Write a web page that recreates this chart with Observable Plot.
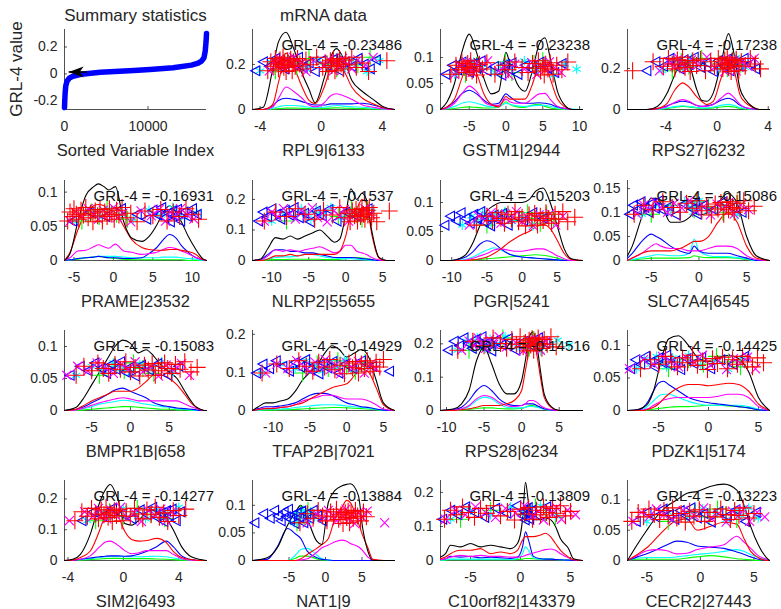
<!DOCTYPE html>
<html>
<head>
<meta charset="utf-8">
<script src="https://cdn.jsdelivr.net/npm/d3@7"></script>
<script src="https://cdn.jsdelivr.net/npm/@observablehq/plot@0.6"></script>
<style>
  body { margin: 0; background: #fff; }
  #fig { position: relative; width: 781px; height: 609px; overflow: hidden; background: #fff;
         font-family: "Liberation Sans", Arial, Helvetica, sans-serif; }
  #fig svg { position: absolute; overflow: visible; }
  #ylabel { position: absolute; left: 17px; top: 69px; font-size: 17px; color: #262626; white-space: nowrap;
            transform: translate(-50%, -50%) rotate(-90deg); }
</style>
</head>
<body>
<div id="fig"><div id="ylabel">GRL-4 value</div></div>
<script>
// ---- Summary panel: sorted GRL-4 values over all variables ----
const sortedIndex = [0, 30, 80, 150, 300, 600, 1000, 2000, 4300, 8300, 10240, 13000, 15200, 16000, 16400, 16700, 16850, 16950, 17000];
const sortedGRL   = [-0.25, -0.2, -0.14, -0.09, -0.055, -0.03, -0.018, -0.003, 0.012, 0.025, 0.033, 0.045, 0.065, 0.08, 0.095, 0.12, 0.17, 0.24, 0.3];
const arrowTail = [2700, 0.014];
const arrowHead = [500, 0.014];

// ---- Per-gene panels ----
const geneLabels = ["RPL9|6133", "GSTM1|2944", "RPS27|6232", "PRAME|23532", "NLRP2|55655", "PGR|5241",
  "SLC7A4|6545", "BMPR1B|658", "TFAP2B|7021", "RPS28|6234", "PDZK1|5174", "SIM2|6493", "NAT1|9",
  "C10orf82|143379", "CECR2|27443"];
const grlValues = [-0.23486, -0.23238, -0.17238, -0.16931, -0.1537, -0.15203, -0.15086, -0.15083,
  -0.14929, -0.14516, -0.14425, -0.14277, -0.13884, -0.13809, -0.13223];

const xLimits = [[-4.5, 4.8], [-8.9, 10.4], [-7, 4.1], [-6.2, 11.8], [-12.6, 6.6], [-11.6, 8.6], [-7.5, 7.4],
  [-8.5, 9.8], [-12.8, 6.5], [-10.8, 8.1], [-8.1, 6.1], [-4.25, 6.0], [-10, 9.45], [-8, 6.2], [-6.8, 6.45]];
const yLimits = [[0, 0.355], [0, 0.154], [0, 0.39], [0, 0.117], [0, 0.262], [0, 0.138], [0, 0.167],
  [0, 0.125], [0, 0.21], [0, 0.24], [0, 0.123], [0, 0.26], [0, 0.145], [0, 0.235], [0, 0.132]];
const xTickVals = [[-4, 0, 4], [-5, 0, 5, 10], [-4, 0, 4], [-5, 0, 5, 10], [-10, -5, 0, 5], [-10, -5, 0, 5],
  [-5, 0, 5], [-5, 0, 5], [-10, -5, 0, 5], [-10, -5, 0, 5], [-5, 0, 5], [-4, 0, 4], [-5, 0, 5], [-5, 0, 5], [-5, 0, 5]];
const yTickVals = [[0, 0.2], [0, 0.05, 0.1], [0, 0.2], [0, 0.05, 0.1], [0, 0.1, 0.2], [0, 0.05, 0.1],
  [0, 0.05, 0.1, 0.15], [0, 0.05, 0.1], [0, 0.1, 0.2], [0, 0.1, 0.2], [0, 0.05, 0.1], [0, 0.1, 0.2],
  [0, 0.05, 0.1], [0, 0.1, 0.2], [0, 0.05, 0.1]];
const bandLevels = [0.2, 0.08, 0.22, 0.067, 0.15, 0.072, 0.11, 0.065, 0.115, 0.2, 0.074, 0.15, 0.08, 0.14, 0.075];

// Density estimates: evaluation points and values (all samples, then one per class)
const gridX = [
  [-4.5,-3.8,-3.2,-2.8,-2.3,-1.8,-1.25,-0.8,-0.4,0.2,0.6,1.0,1.5,2.0,2.7,3.4,4.0,4.8],
  [-8.9,-8,-7,-6,-5,-4,-3,-2,-1,0,0.5,1.5,2.6,3.5,4.5,5.3,6,7,8,9,10.4],
  [-7,-5.5,-5,-4.4,-3.9,-3.3,-2.7,-2.2,-1.6,-1.2,-0.8,-0.3,0.3,0.9,1.3,1.8,2.2,2.8,3.3,4.1],
  [-6.2,-5.5,-4.5,-3.5,-2.5,-1.9,-1.2,-0.6,0.25,1.3,2.3,3.6,4.5,5.5,6.3,7.1,8,8.6,9.5,10.3,11.4,11.8],
  [-12.6,-11.5,-10.5,-9.5,-8.5,-7.5,-6.5,-5.5,-4.5,-3.5,-2.5,-1.5,-0.8,0,0.7,1.5,2.2,2.8,3.5,4.5,5.5,6.6],
  [-11.6,-10,-9,-8,-7,-6,-5,-4,-3,-2,-1,0,1,2,3,4,5,6,7,8.6],
  [-7.5,-7,-6,-5,-4.5,-4,-3,-2,-1,-0.5,0,1,2,3,4,5,6,7.4],
  [-8.5,-7,-6,-5,-4,-3,-2,-1,0,1,2,3,4,5,6,7,7.8,8.5,9,9.5,9.8],
  [-12.8,-12,-11,-10,-9,-8,-7,-6,-5,-4,-3,-2,-1,0,1,2,3,4,5,6.5],
  [-10.8,-9,-8,-7,-6,-5,-4,-3,-2,-1,0,0.5,1,1.5,2,2.5,3,4,5,8.1],
  [-8.1,-7,-6.5,-6,-5.5,-5,-4.5,-4,-3,-2,-1,0,1,2,3,4,5,6.1],
  [-4.25,-3.6,-3.1,-2.4,-1.7,-1.3,-0.95,-0.4,0.1,0.6,1.1,1.7,2.4,3.1,3.6,4.2,4.9,5.6,6.0],
  [-10,-8,-6.6,-5.2,-4.1,-3.4,-2.5,-1.2,-0.5,0.4,1.3,2.2,2.9,3.4,4.5,5.1,5.8,6.5,8,9.45],
  [-8,-7.5,-7,-6,-5,-4,-3,-2,-1,-0.3,0.2,0.5,0.8,1.3,2,2.5,3,3.5,4,4.8,5.3,6.2],
  [-6.8,-5.9,-5,-4.05,-3.1,-2.2,-1.25,-0.3,0.9,2.2,3.4,4.1,4.7,5.4,6.2,6.45]
];
const densAll = [
  [0,0.01,0.17,0.30,0.343,0.27,0.16,0.09,0.03,0.14,0.23,0.27,0.22,0.13,0.08,0.045,0.015,0],
  [0,0.015,0.05,0.11,0.145,0.11,0.06,0.03,0.035,0.11,0.09,0.05,0.035,0.07,0.125,0.138,0.1,0.035,0.008,0,0],
  [0,0,0.005,0.03,0.08,0.17,0.24,0.22,0.1,0.045,0.04,0.08,0.22,0.37,0.28,0.1,0.05,0.012,0,0],
  [0,0.01,0.057,0.095,0.108,0.112,0.108,0.103,0.108,0.057,0.033,0.028,0.035,0.052,0.07,0.08,0.07,0.057,0.035,0.019,0.002,0],
  [0,0.005,0.04,0.075,0.07,0.08,0.07,0.08,0.09,0.1,0.08,0.06,0.07,0.15,0.235,0.2,0.22,0.2,0.1,0.01,0,0],
  [0,0,0.003,0.01,0.03,0.06,0.085,0.095,0.1,0.1,0.1,0.1,0.105,0.12,0.125,0.1,0.06,0.02,0.003,0],
  [0.01,0.03,0.09,0.13,0.13,0.12,0.08,0.08,0.09,0.1,0.095,0.1,0.12,0.14,0.12,0.05,0.01,0],
  [0,0.005,0.02,0.04,0.06,0.08,0.1,0.11,0.105,0.09,0.095,0.085,0.07,0.06,0.05,0.03,0.015,0.005,0.002,0,0],
  [0,0.01,0.02,0.02,0.025,0.03,0.05,0.08,0.1,0.12,0.15,0.17,0.16,0.14,0.15,0.16,0.14,0.08,0.02,0],
  [0,0.005,0.02,0.06,0.15,0.19,0.14,0.08,0.05,0.05,0.09,0.15,0.22,0.235,0.2,0.12,0.05,0.01,0,0],
  [0,0.002,0.005,0.012,0.03,0.06,0.09,0.11,0.115,0.1,0.08,0.075,0.08,0.085,0.08,0.06,0.02,0],
  [0,0.005,0.02,0.084,0.19,0.23,0.247,0.2,0.12,0.115,0.13,0.158,0.165,0.137,0.1,0.045,0.012,0.003,0],
  [0,0.005,0.023,0.064,0.088,0.1,0.076,0.035,0.029,0.106,0.127,0.135,0.138,0.139,0.118,0.058,0.017,0,0,0],
  [0.01,0.02,0.045,0.04,0.05,0.04,0.045,0.04,0.035,0.05,0.12,0.23,0.17,0.12,0.12,0.125,0.12,0.1,0.064,0.035,0.005,0],
  [0,0.026,0.05,0.073,0.09,0.1,0.111,0.114,0.122,0.126,0.116,0.09,0.056,0.026,0.004,0]
];
const densRed = [
  [0,0,0.02,0.12,0.25,0.19,0.1,0.04,0.025,0.1,0.18,0.21,0.17,0.1,0.05,0.025,0.01,0],
  [0,0.005,0.02,0.06,0.095,0.07,0.03,0.01,0.005,0.025,0.02,0.02,0.02,0.045,0.085,0.09,0.06,0.02,0.005,0,0],
  [0,0,0.002,0.01,0.03,0.095,0.13,0.11,0.063,0.04,0.024,0.04,0.15,0.25,0.2,0.07,0.035,0.01,0,0],
  [0,0.012,0.045,0.07,0.08,0.082,0.08,0.075,0.07,0.05,0.031,0.019,0.016,0.015,0.015,0.016,0.016,0.015,0.013,0.01,0.001,0],
  [0,0,0.005,0.015,0.015,0.02,0.015,0.02,0.02,0.02,0.02,0.02,0.03,0.08,0.15,0.17,0.2,0.19,0.09,0.008,0,0],
  [0,0,0,0,0.001,0.003,0.006,0.012,0.02,0.03,0.038,0.045,0.05,0.058,0.062,0.055,0.035,0.012,0.002,0],
  [0,0.005,0.015,0.02,0.02,0.02,0.02,0.025,0.035,0.04,0.04,0.05,0.08,0.1,0.08,0.03,0.005,0],
  [0,0.002,0.008,0.015,0.02,0.025,0.03,0.03,0.03,0.035,0.045,0.055,0.055,0.05,0.04,0.025,0.012,0.005,0.002,0,0],
  [0,0.002,0.005,0.005,0.008,0.01,0.015,0.02,0.03,0.04,0.05,0.06,0.065,0.07,0.09,0.11,0.1,0.06,0.015,0],
  [0,0,0.002,0.005,0.01,0.015,0.015,0.015,0.02,0.03,0.06,0.12,0.18,0.2,0.17,0.1,0.04,0.008,0,0],
  [0,0,0,0.002,0.005,0.01,0.018,0.025,0.035,0.04,0.04,0.038,0.04,0.042,0.04,0.03,0.01,0],
  [0,0.002,0.01,0.03,0.1,0.15,0.17,0.147,0.095,0.068,0.063,0.065,0.072,0.058,0.03,0.01,0.003,0,0],
  [0,0,0,0,0,0.003,0.011,0.022,0.029,0.04,0.076,0.095,0.109,0.105,0.068,0.045,0.023,0.002,0,0],
  [0.005,0.01,0.02,0.03,0.03,0.035,0.02,0.025,0.02,0.03,0.06,0.07,0.07,0.07,0.075,0.08,0.07,0.05,0.03,0.01,0.002,0],
  [0,0.01,0.021,0.038,0.055,0.066,0.068,0.05,0.056,0.063,0.06,0.035,0.015,0.005,0,0]
];
const densMagenta = [
  [0,0,0.01,0.05,0.1,0.08,0.05,0.02,0.012,0.03,0.06,0.07,0.06,0.045,0.02,0.01,0.003,0],
  [0,0.003,0.012,0.03,0.045,0.035,0.015,0.008,0.008,0.02,0.015,0.012,0.012,0.02,0.03,0.031,0.02,0.006,0.002,0,0],
  [0,0,0.001,0.006,0.015,0.035,0.048,0.04,0.02,0.015,0.015,0.025,0.055,0.08,0.06,0.025,0.01,0.003,0,0],
  [0,0.004,0.014,0.015,0.02,0.023,0.02,0.018,0.024,0.014,0.012,0.009,0.01,0.012,0.016,0.019,0.017,0.014,0.01,0.005,0.001,0],
  [0,0.002,0.015,0.035,0.03,0.035,0.03,0.035,0.04,0.045,0.035,0.025,0.03,0.05,0.05,0.03,0.025,0.02,0.01,0.002,0,0],
  [0,0,0,0.001,0.004,0.008,0.012,0.018,0.02,0.018,0.016,0.016,0.018,0.02,0.02,0.015,0.008,0.003,0,0],
  [0,0.005,0.015,0.03,0.035,0.03,0.025,0.025,0.02,0.02,0.02,0.025,0.03,0.03,0.025,0.01,0.002,0],
  [0,0.001,0.004,0.008,0.012,0.015,0.018,0.02,0.018,0.015,0.015,0.015,0.015,0.015,0.015,0.01,0.006,0.003,0.001,0,0],
  [0,0.003,0.006,0.006,0.008,0.01,0.015,0.025,0.03,0.035,0.04,0.04,0.035,0.03,0.03,0.03,0.025,0.015,0.004,0],
  [0,0.001,0.005,0.015,0.035,0.045,0.04,0.025,0.015,0.012,0.015,0.02,0.03,0.03,0.025,0.015,0.008,0.002,0,0],
  [0,0,0.001,0.003,0.008,0.012,0.016,0.018,0.02,0.02,0.02,0.02,0.022,0.025,0.025,0.02,0.006,0],
  [0,0.001,0.004,0.015,0.045,0.06,0.063,0.05,0.032,0.022,0.025,0.032,0.032,0.032,0.02,0.006,0.001,0,0],
  [0,0,0,0,0,0.001,0.003,0.015,0.023,0.028,0.034,0.037,0.035,0.031,0.025,0.018,0.006,0.001,0,0],
  [0.002,0.005,0.01,0.015,0.012,0.015,0.012,0.012,0.01,0.01,0.012,0.015,0.018,0.022,0.028,0.032,0.034,0.03,0.02,0.008,0.002,0],
  [0,0.008,0.016,0.018,0.016,0.011,0.012,0.018,0.022,0.026,0.04,0.03,0.02,0.008,0.002,0]
];
const densBlue = [
  [0,0,0.015,0.04,0.05,0.045,0.035,0.025,0.02,0.02,0.025,0.025,0.025,0.025,0.028,0.02,0.008,0],
  [0,0.005,0.015,0.03,0.037,0.03,0.018,0.01,0.012,0.03,0.025,0.015,0.012,0.012,0.013,0.012,0.01,0.005,0.002,0,0],
  [0,0,0.002,0.008,0.018,0.032,0.04,0.035,0.02,0.015,0.018,0.025,0.045,0.055,0.045,0.02,0.01,0.003,0,0],
  [0,0.001,0.003,0.004,0.005,0.006,0.005,0.004,0.004,0.003,0.003,0.004,0.01,0.019,0.03,0.038,0.032,0.022,0.012,0.005,0.001,0],
  [0,0.003,0.02,0.035,0.035,0.03,0.03,0.025,0.025,0.02,0.015,0.01,0.01,0.01,0.01,0.008,0.006,0.005,0.003,0,0,0],
  [0,0,0.002,0.006,0.015,0.028,0.034,0.03,0.02,0.012,0.008,0.006,0.005,0.004,0.003,0.002,0.001,0,0,0],
  [0.005,0.015,0.04,0.055,0.05,0.045,0.03,0.02,0.015,0.03,0.02,0.015,0.015,0.015,0.01,0.005,0,0],
  [0,0.002,0.006,0.012,0.018,0.025,0.032,0.035,0.03,0.025,0.02,0.012,0.008,0.006,0.004,0.003,0.002,0.001,0,0,0],
  [0,0.005,0.01,0.01,0.012,0.015,0.02,0.03,0.04,0.045,0.045,0.04,0.03,0.02,0.015,0.01,0.008,0.004,0.001,0],
  [0,0.003,0.01,0.03,0.06,0.075,0.06,0.035,0.02,0.015,0.015,0.02,0.02,0.02,0.015,0.01,0.005,0.001,0,0],
  [0,0.001,0.005,0.015,0.03,0.042,0.045,0.04,0.03,0.02,0.015,0.012,0.01,0.008,0.006,0.004,0.001,0],
  [0,0.001,0.004,0.008,0.012,0.014,0.015,0.015,0.014,0.015,0.02,0.03,0.045,0.063,0.045,0.015,0.003,0,0],
  [0,0.002,0.025,0.058,0.048,0.04,0.017,0.005,0.002,0.001,0,0,0,0,0,0,0,0,0,0],
  [0.003,0.005,0.012,0.01,0.012,0.008,0.01,0.008,0.006,0.01,0.04,0.084,0.06,0.012,0.005,0.004,0.004,0.003,0.002,0.001,0,0],
  [0,0.006,0.011,0.018,0.026,0.032,0.03,0.024,0.022,0.02,0.014,0.01,0.006,0.002,0,0]
];
const densCyan = [
  [0,0,0.005,0.012,0.018,0.018,0.015,0.01,0.008,0.01,0.015,0.018,0.015,0.012,0.01,0.006,0.002,0],
  [0,0.002,0.006,0.012,0.015,0.012,0.008,0.005,0.005,0.012,0.01,0.007,0.006,0.007,0.008,0.008,0.006,0.003,0.001,0.001,0],
  [0,0,0,0.003,0.008,0.014,0.018,0.015,0.01,0.008,0.008,0.012,0.02,0.025,0.02,0.01,0.005,0.001,0,0],
  [0,0.001,0.003,0.004,0.005,0.006,0.006,0.006,0.006,0.005,0.004,0.004,0.004,0.004,0.005,0.005,0.005,0.004,0.003,0.002,0,0],
  [0,0.001,0.006,0.01,0.012,0.012,0.015,0.02,0.02,0.015,0.01,0.008,0.006,0.006,0.006,0.004,0.003,0.002,0.001,0,0,0],
  [0,0,0,0.002,0.006,0.012,0.018,0.022,0.018,0.012,0.008,0.006,0.005,0.004,0.003,0.002,0.001,0,0,0],
  [0,0.002,0.006,0.01,0.012,0.012,0.01,0.01,0.015,0.045,0.02,0.01,0.008,0.008,0.006,0.003,0,0],
  [0,0.001,0.003,0.006,0.01,0.012,0.014,0.016,0.015,0.012,0.01,0.008,0.006,0.005,0.003,0.002,0.001,0,0,0,0],
  [0,0.001,0.002,0.003,0.004,0.005,0.008,0.01,0.012,0.014,0.015,0.015,0.014,0.012,0.01,0.008,0.006,0.003,0.001,0],
  [0,0.001,0.004,0.012,0.03,0.04,0.035,0.02,0.01,0.008,0.008,0.01,0.012,0.012,0.01,0.007,0.004,0.001,0,0],
  [0,0,0.002,0.008,0.015,0.022,0.025,0.025,0.02,0.014,0.01,0.008,0.008,0.008,0.008,0.006,0.002,0],
  [0,0.001,0.003,0.006,0.01,0.012,0.013,0.013,0.012,0.012,0.012,0.013,0.014,0.012,0.008,0.004,0.001,0,0],
  [0,0,0,0,0.01,0.02,0.022,0.01,0.003,0.001,0,0,0,0,0,0,0,0,0,0],
  [0.001,0.002,0.004,0.004,0.004,0.004,0.004,0.004,0.003,0.006,0.02,0.04,0.03,0.008,0.004,0.004,0.004,0.003,0.002,0.001,0,0],
  [0,0.004,0.005,0.005,0.005,0.006,0.008,0.01,0.012,0.015,0.018,0.015,0.01,0.005,0.001,0]
];
const densGreen = [
  [0,0,0.002,0.004,0.006,0.006,0.005,0.004,0.003,0.004,0.006,0.007,0.006,0.005,0.004,0.002,0.001,0],
  [0,0.001,0.002,0.004,0.005,0.004,0.003,0.003,0.005,0.015,0.01,0.005,0.004,0.008,0.01,0.006,0.003,0.001,0,0,0],
  [0,0,0,0.002,0.005,0.01,0.015,0.012,0.008,0.006,0.005,0.008,0.012,0.015,0.012,0.006,0.003,0,0,0],
  [0,0.001,0.002,0.004,0.005,0.006,0.005,0.004,0.003,0.002,0.001,0.001,0.001,0.001,0.001,0.001,0.001,0.001,0,0,0,0],
  [0,0,0.002,0.003,0.003,0.004,0.004,0.004,0.004,0.004,0.003,0.003,0.004,0.006,0.008,0.01,0.008,0.006,0.003,0,0,0],
  [0,0,0,0,0.001,0.002,0.003,0.004,0.005,0.006,0.007,0.008,0.009,0.01,0.009,0.007,0.004,0.001,0,0],
  [0,0.001,0.003,0.005,0.005,0.005,0.005,0.005,0.006,0.01,0.008,0.006,0.006,0.006,0.005,0.002,0,0],
  [0,0,0.001,0.002,0.003,0.004,0.005,0.006,0.006,0.005,0.004,0.003,0.002,0.002,0.001,0.001,0,0,0,0,0],
  [0,0,0.001,0.001,0.002,0.002,0.003,0.004,0.005,0.006,0.007,0.008,0.008,0.007,0.006,0.005,0.004,0.002,0,0],
  [0,0,0.001,0.003,0.006,0.008,0.008,0.006,0.005,0.005,0.006,0.01,0.014,0.015,0.012,0.008,0.004,0.001,0,0],
  [0,0,0,0.001,0.002,0.003,0.004,0.005,0.006,0.006,0.007,0.008,0.008,0.007,0.006,0.004,0.001,0],
  [0,0,0.001,0.003,0.005,0.006,0.007,0.007,0.006,0.006,0.006,0.006,0.005,0.004,0.003,0.001,0,0,0],
  [0,0,0,0,0.004,0.008,0.008,0.003,0.001,0,0,0,0,0,0,0,0,0,0,0],
  [0,0.001,0.002,0.002,0.002,0.002,0.002,0.002,0.002,0.003,0.004,0.006,0.006,0.005,0.004,0.004,0.004,0.003,0.002,0.001,0,0],
  [0,0.002,0.002,0.002,0.002,0.002,0.004,0.006,0.008,0.006,0.003,0.002,0.001,0,0,0]
];

// Individual samples per class (x values), drawn as the marker strip
const samplesRed = [
  [-3.5,-3.3,-3.1,-3.0,-2.9,-2.8,-2.7,-2.6,-2.5,-2.45,-2.4,-2.3,-2.2,-2.1,-2.0,-1.9,-1.8,-1.7,-1.55,-1.4,-1.2,-1.0,-0.7,-0.3,0.1,0.3,0.45,0.6,0.7,0.8,0.9,1.0,1.1,1.2,1.3,1.45,1.6,1.8,2.0,2.3,2.7,3.1,4.3],
  [-7.5,-6.8,-6.4,-6.0,-5.7,-5.4,-5.2,-5.0,-4.8,-4.6,-4.3,-4.0,-3.6,-3.2,-2.6,-1.5,-0.2,0.3,1.2,2.2,3.0,3.6,4.0,4.4,4.7,5.0,5.2,5.4,5.7,6.0,6.4,6.9,7.6,8.4],
  [-6.6,-5.0,-4.2,-3.8,-3.5,-3.3,-3.1,-2.9,-2.7,-2.5,-2.3,-2.1,-1.9,-1.6,-1.3,-0.9,-0.5,-0.2,0.1,0.3,0.45,0.6,0.7,0.8,0.9,1.0,1.1,1.2,1.35,1.5,1.7,1.9,2.2,2.6,3.0,3.4],
  [-5.8,-5.5,-5.2,-5.0,-4.7,-4.4,-4.1,-3.8,-3.5,-3.2,-2.9,-2.6,-2.3,-2.0,-1.7,-1.4,-1.1,-0.8,-0.5,-0.2,0.1,0.4,0.7,1.1,1.6,2.2,3.0,4.0,5.0,6.0,6.8,7.6,8.4,9.2,10.0,10.8],
  [-11.0,-9.5,-8.0,-6.8,-5.5,-4.2,-3.0,-1.8,-0.8,-0.2,0.3,0.6,0.9,1.2,1.4,1.6,1.8,2.0,2.2,2.4,2.6,2.8,3.0,3.2,3.5,3.8,4.2,5.9],
  [-6.5,-5.0,-4.2,-3.6,-3.0,-2.5,-2.0,-1.5,-1.0,-0.5,0.0,0.5,1.0,1.4,1.8,2.2,2.6,3.0,3.4,3.8,4.2,4.7,5.2,5.8,6.5,7.5],
  [-6.8,-5.8,-4.8,-3.8,-2.8,-2.0,-1.3,-0.7,-0.2,0.3,0.8,1.3,1.7,2.0,2.3,2.6,2.9,3.1,3.3,3.5,3.7,4.0,4.3,4.7,5.2,5.8],
  [-7.0,-6.0,-5.0,-4.2,-3.5,-2.8,-2.0,-1.3,-0.6,0.0,0.6,1.2,1.8,2.3,2.8,3.2,3.6,4.0,4.4,4.8,5.3,5.8,6.4,7.0,7.8,8.6],
  [-11.5,-9.5,-7.8,-6.5,-5.5,-4.6,-3.8,-3.0,-2.3,-1.6,-0.9,-0.3,0.3,0.8,1.2,1.6,2.0,2.4,2.8,3.2,3.6,4.0,4.5,5.0],
  [-8.5,-6.5,-5.0,-3.8,-2.8,-2.0,-1.3,-0.7,-0.2,0.2,0.5,0.8,1.0,1.2,1.4,1.6,1.8,2.0,2.2,2.4,2.7,3.0,3.4,3.9,4.6],
  [-6.8,-5.8,-5.0,-4.3,-3.7,-3.1,-2.6,-2.1,-1.6,-1.1,-0.6,-0.1,0.4,0.9,1.4,1.9,2.4,2.9,3.4,3.9,4.4,4.9,5.5],
  [-3.5,-3.0,-2.6,-2.3,-2.0,-1.8,-1.6,-1.4,-1.25,-1.1,-0.95,-0.8,-0.65,-0.5,-0.3,-0.1,0.2,0.5,0.8,1.1,1.4,1.7,2.0,2.3,2.6,2.9,3.2,3.6,4.0,4.5],
  [-3.5,-2.5,-1.7,-1.0,-0.4,0.2,0.7,1.1,1.5,1.8,2.1,2.4,2.7,2.9,3.1,3.3,3.5,3.8,4.1,4.4,4.8,5.2,5.6],
  [-7.6,-7.0,-6.4,-5.8,-5.2,-4.6,-4.0,-3.4,-2.7,-2.0,-1.3,-0.6,0.0,0.4,0.8,1.2,1.6,2.0,2.3,2.6,2.9,3.2,3.6,4.0,4.5,5.0],
  [-6.4,-5.8,-5.3,-4.8,-4.3,-3.8,-3.4,-3.0,-2.6,-2.2,-1.8,-1.4,-1.0,-0.6,-0.1,0.4,0.9,1.4,1.9,2.4,2.8,3.2,3.6,4.0,4.5,5.0]
];
const samplesMagenta = [
  [-3.4,-3.1,-2.9,-2.7,-2.5,-2.35,-2.2,-2.0,-1.8,-1.6,-1.3,-1.0,-0.5,0.2,0.5,0.8,1.0,1.2,1.4,1.7,2.0,2.4,2.9,3.4],
  [-7.0,-6.3,-5.8,-5.4,-5.0,-4.6,-4.1,-3.5,-2.5,-1.0,-0.2,0.4,1.2,2.5,3.5,4.2,4.8,5.3,5.9,6.6,7.5],
  [-4.5,-3.8,-3.3,-3.0,-2.7,-2.4,-2.0,-1.5,-0.8,-0.2,0.3,0.6,0.8,1.0,1.2,1.5,1.9,2.4,2.9],
  [-5.5,-4.8,-4.0,-3.2,-2.5,-1.9,-1.3,-0.6,0.0,0.5,1.2,2.2,3.5,4.8,5.8,6.6,7.2,7.8,8.5,9.3,10.2],
  [-11.0,-10.0,-9.2,-8.4,-7.6,-6.8,-6.0,-5.2,-4.5,-3.8,-3.2,-2.5,-1.6,-0.8,-0.2,0.4,1.0,1.8,2.6,3.4],
  [-7.5,-6.2,-5.2,-4.4,-3.7,-3.0,-2.3,-1.6,-0.8,0.0,0.8,1.6,2.4,3.2,4.0,4.8,5.8],
  [-6.5,-5.8,-5.2,-4.6,-4.0,-3.3,-2.6,-1.8,-1.0,-0.3,0.5,1.2,1.9,2.5,3.1,3.7,4.4,5.2],
  [-8.2,-6.8,-5.5,-4.3,-3.2,-2.2,-1.2,-0.3,0.6,1.6,2.6,3.6,4.6,5.6,6.6,7.6],
  [-11.0,-9.5,-8.0,-6.8,-5.8,-5.0,-4.3,-3.6,-2.9,-2.2,-1.5,-0.8,0.0,0.8,1.6,2.4,3.2,4.0],
  [-8.0,-7.0,-6.3,-5.8,-5.3,-4.8,-4.3,-3.7,-3.0,-2.0,-0.8,0.2,0.9,1.4,1.9,2.5,3.2],
  [-7.9,-6.5,-5.5,-4.6,-3.8,-3.0,-2.2,-1.4,-0.6,0.2,1.0,1.8,2.5,3.2,3.9,4.7],
  [-3.9,-2.8,-2.2,-1.8,-1.5,-1.2,-0.9,-0.6,-0.2,0.3,0.8,1.3,1.8,2.3,2.7,3.1,3.5],
  [-2.5,-1.2,-0.3,0.4,1.0,1.5,2.0,2.4,2.8,3.2,3.6,4.0,4.5,5.1,5.7,8.1],
  [-7.5,-6.5,-5.5,-4.5,-3.5,-2.5,-1.5,-0.5,0.4,1.2,1.8,2.3,2.8,3.2,3.6,4.1,4.7,5.5],
  [-6.3,-5.5,-4.8,-4.1,-3.4,-2.6,-1.6,-0.6,0.3,1.0,1.7,2.4,3.0,3.5,4.0,4.6,5.3,6.0]
];
const samplesBlue = [
  [-4.3,-3.8,-3.4,-3.0,-2.7,-2.4,-2.1,-1.8,-1.5,-1.2,-0.8,-0.4,0.0,0.4,0.8,1.2,1.6,2.0,2.4,2.8,3.2,3.6],
  [-8.2,-7.3,-6.6,-6.0,-5.5,-5.0,-4.5,-4.0,-3.4,-2.6,-1.6,-0.6,-0.1,0.3,0.8,1.6,2.6,3.6,4.6,5.6,6.6,7.6],
  [-5.5,-4.8,-4.2,-3.7,-3.3,-2.9,-2.6,-2.2,-1.8,-1.3,-0.8,-0.3,0.1,0.5,0.8,1.0,1.3,1.7,2.1,2.6,3.0],
  [-5.2,-3.0,-1.0,1.0,3.0,4.2,5.0,5.6,6.1,6.5,6.9,7.2,7.5,7.8,8.1,8.5,8.9,9.4,10.0,10.6],
  [-11.8,-11.2,-10.6,-10.0,-9.4,-8.8,-8.2,-7.6,-7.0,-6.3,-5.6,-4.8,-4.0,-3.2,-2.3,-1.2,0.0,1.5,3.0],
  [-11.0,-10.2,-9.4,-8.7,-8.0,-7.4,-6.9,-6.4,-5.9,-5.4,-5.0,-4.5,-4.0,-3.4,-2.8,-2.0,-1.0,0.2,1.5,3.0],
  [-7.3,-6.9,-6.5,-6.1,-5.7,-5.3,-5.0,-4.6,-4.2,-3.7,-3.1,-2.4,-1.6,-0.7,-0.4,-0.2,0.5,1.5,2.5,3.5,4.5],
  [-7.8,-6.5,-5.5,-4.6,-3.8,-3.1,-2.5,-1.9,-1.3,-0.7,-0.1,0.6,1.4,2.4,3.5,4.8,6.2],
  [-12.3,-11.4,-10.5,-9.6,-8.7,-7.8,-7.0,-6.3,-5.6,-5.0,-4.4,-3.8,-3.2,-2.6,-1.9,-1.1,-0.2,0.8,2.0,3.5,5.8],
  [-9.8,-9.0,-8.3,-7.7,-7.1,-6.6,-6.1,-5.7,-5.3,-4.9,-4.5,-4.0,-3.4,-2.7,-1.8,-0.8,0.3,1.2,2.2,3.2],
  [-7.8,-7.3,-6.8,-6.3,-5.8,-5.4,-5.0,-4.6,-4.2,-3.8,-3.3,-2.8,-2.2,-1.5,-0.7,0.2,1.2,2.4,3.6],
  [-3.0,-2.2,-1.5,-0.8,-0.1,0.6,1.2,1.7,2.1,2.4,2.7,2.9,3.1,3.3,3.5,3.8,4.1],
  [-9.7,-8.5,-7.6,-7.0,-6.5,-6.1,-5.7,-5.4,-5.1,-4.8,-4.5,-4.2,-3.9,-3.6,-3.3,-3.0,-2.6,-2.2,-1.7,-1.1,-0.4],
  [-7.8,-7.0,-6.3,-5.5,-4.6,-3.6,-2.5,-1.4,-0.4,0.2,0.35,0.45,0.55,0.65,0.75,0.9,1.1,1.6,2.6],
  [-6.0,-5.0,-4.2,-3.5,-2.9,-2.4,-1.9,-1.4,-0.9,-0.3,0.3,1.0,1.7,2.5,3.3,4.2,5.2]
];
const samplesCyan = [
  [-4.0,-3.3,-2.7,-2.2,-1.7,-1.0,-0.2,0.6,1.1,1.6,2.3,3.0,3.8],
  [-7.0,-6.0,-5.2,-4.4,-3.2,-1.5,0.0,0.8,2.5,4.0,5.0,6.5,8.0,9.6],
  [-4.3,-3.3,-2.7,-2.0,-1.0,0.0,0.6,1.0,1.5,2.2],
  [-5.0,-3.5,-2.0,-0.5,1.0,2.5,4.5,6.0,7.5,9.0,10.6],
  [-10.0,-8.5,-7.0,-6.0,-5.3,-4.7,-4.0,-3.2,-2.0,-0.5,1.5],
  [-8.5,-7.2,-6.3,-5.6,-5.0,-4.4,-3.8,-3.2,-2.4,-1.4,0.0,1.5,3.0],
  [-6.0,-4.5,-3.0,-1.5,-0.8,-0.6,-0.4,-0.2,0.0,1.0,2.5,4.0],
  [-7.0,-5.0,-3.5,-2.2,-1.0,0.0,1.2,2.5,4.0,5.5],
  [-11.5,-9.0,-7.0,-5.5,-4.3,-3.3,-2.3,-1.3,-0.3,1.0,2.5],
  [-8.5,-7.3,-6.5,-5.9,-5.3,-4.8,-4.2,-3.4,-2.2,-0.5,1.2,2.5,4.8,6.3],
  [-7.2,-6.4,-5.8,-5.2,-4.7,-4.2,-3.6,-2.9,-2.0,-0.8,0.6,2.0,3.4],
  [-2.6,-1.6,-0.8,0.0,0.8,1.6,2.4,3.2,4.0],
  [-4.3,-3.8,-3.4,-3.0,-2.7,-2.4,-2.0,-1.5],
  [-7.0,-5.0,-3.0,-1.0,0.3,0.5,0.7,0.9,2.0,3.5],
  [-5.0,-3.0,-1.2,0.2,1.4,2.4,3.2,3.8,4.5,5.4]
];
const samplesGreen = [
  [-3.0,-2.4,-1.6,-0.8,0.4,1.0,1.6,2.4,3.2],
  [-5.5,-4.0,-0.8,-0.1,0.3,0.8,3.8,4.4,5.0],
  [-3.5,-2.8,-2.2,-1.2,0.2,0.8,1.2,1.8],
  [-4.0,-2.8,-1.8,-0.8,0.4,1.8],
  [-8.0,-4.0,-1.0,0.8,1.5,2.2,3.0],
  [-5.0,-2.5,-0.5,0.8,1.8,2.6,3.5,4.5],
  [-5.0,-3.0,-0.5,-0.3,1.0,2.5,4.0],
  [-4.0,-2.0,-0.8,0.4,1.6,3.0],
  [-6.0,-4.0,-2.5,-1.2,0.0,1.2,2.5],
  [-7.0,-5.5,-4.2,-2.5,0.3,1.0,1.6,2.3],
  [-4.0,-2.0,-0.5,0.8,2.0,3.2],
  [-2.0,-1.0,0.0,1.0,2.0,3.0],
  [-3.9,-3.4,-2.9,-2.4],
  [-6.0,-3.0,0.5,1.5,2.5,3.5],
  [-3.0,-0.5,0.8,1.6,2.4,3.4]
];

// ---- Layout (4x4 subplot grid) ----
const AX_W = 142, AX_H = 80;
const colLeft = [64, 252, 439.5, 627];
const rowTop = [29, 180, 330, 480];
const M = {l: 50, r: 10, t: 6, b: 54};
const AXIS = "#262626";
const FONT = "'Liberation Sans', Arial, Helvetica, sans-serif";
const fmt = d => String(d);
const fig = document.getElementById("fig");

// Left-pointing open triangle marker
const triLeft = {
  draw(ctx, size) {
    const s = Math.sqrt(size) * 0.6;
    ctx.moveTo(-s, 0);
    ctx.lineTo(s * 0.85, -s);
    ctx.lineTo(s * 0.85, s);
    ctx.closePath();
  }
};
// Filled arrowhead with a notch, tip at the origin, pointing left
const arrowTip = {
  draw(ctx) {
    ctx.moveTo(0, 0);
    ctx.lineTo(15, -5.5);
    ctx.lineTo(11, 0);
    ctx.lineTo(15, 5.5);
    ctx.closePath();
  }
};

function axesMarks(xd, yd, xt, yt) {
  const ty = 3 * (yd[1] - yd[0]) / AX_H;   // inward tick length along y
  const tx = 3 * (xd[1] - xd[0]) / AX_W;   // inward tick length along x
  return [
    Plot.ruleX(xt, {x: d => d, y1: yd[0], y2: yd[0] + ty, stroke: AXIS, strokeWidth: 0.8}),
    Plot.ruleY(yt, {y: d => d, x1: xd[0], x2: xd[0] + tx, stroke: AXIS, strokeWidth: 0.8}),
    Plot.ruleY([yd[0]], {stroke: AXIS, strokeWidth: 0.8}),
    Plot.ruleX([xd[0]], {stroke: AXIS, strokeWidth: 0.8}),
    Plot.axisX(xt, {tickSize: 0, tickPadding: 12, tickFormat: fmt, label: null, fill: AXIS}),
    Plot.axisY(yt, {tickSize: 0, tickPadding: 7, tickFormat: fmt, label: null, fill: AXIS})
  ];
}

function place(svg, col, row) {
  svg.style.left = (colLeft[col] - M.l) + "px";
  svg.style.top = (rowTop[row] - M.t) + "px";
  fig.appendChild(svg);
}

const baseOpts = {
  width: M.l + AX_W + M.r, height: M.t + AX_H + M.b,
  marginLeft: M.l, marginRight: M.r, marginTop: M.t, marginBottom: M.b,
  style: {fontFamily: FONT, fontSize: "14px", color: AXIS, background: "none", overflow: "visible"}
};
const xLabel = text => Plot.text([text], {frameAnchor: "bottom", dy: 41, fontSize: 16.5, fill: AXIS, text: d => d, lineAnchor: "middle"});
const title = text => Plot.text([text], {frameAnchor: "top", dy: -14, fontSize: 17, fill: AXIS, text: d => d, lineAnchor: "middle"});

// ---- Summary statistics panel ----
{
  const xd = [0, 17000], yd = [-0.265, 0.33];
  const curve = sortedIndex.map((x, i) => ({x, y: sortedGRL[i]}));
  const arrow = [{x1: arrowTail[0], y1: arrowTail[1], x2: arrowHead[0], y2: arrowHead[1]}];
  const svg = Plot.plot({
    ...baseOpts,
    x: {domain: xd}, y: {domain: yd},
    marks: [
      ...axesMarks(xd, yd, [0, 10000], [-0.2, 0, 0.2]),
      Plot.line(curve, {x: "x", y: "y", stroke: "#0000ff", strokeWidth: 5.5}),
      Plot.link(arrow, {x1: "x1", y1: "y1", x2: "x2", y2: "y2", stroke: "#000", strokeWidth: 1.5}),
      Plot.dot(arrow, {x: "x2", y: "y2", symbol: arrowTip, fill: "#000", stroke: "none", r: 6}),
      title("Summary statistics"),
      xLabel("Sorted Variable Index")
    ]
  });
  place(svg, 0, 0);
}

// ---- Gene panels ----
const classStyle = [
  {dens: densGreen,   samples: samplesGreen,   color: "#00ff00", symbol: "plus",     r: 5.5},
  {dens: densCyan,    samples: samplesCyan,    color: "#00ffff", symbol: "asterisk", r: 4.5},
  {dens: densBlue,    samples: samplesBlue,    color: "#0000ff", symbol: triLeft,    r: 4.6},
  {dens: densMagenta, samples: samplesMagenta, color: "#ff00ff", symbol: "times",    r: 4.2},
  {dens: densRed,     samples: samplesRed,     color: "#ff0000", symbol: "plus",     r: 5.5}
];
// vertical scatter of the sample strip, as a fraction of its half-height
const JIT = [-0.85, 0.35, -0.25, 0.8, 0.05, -0.6, 0.6, -0.05, 0.95, -0.4, 0.2, -0.95, 0.5, -0.15, 0.7];

geneLabels.forEach((gene, k) => {
  const pos = k + 1;
  const col = pos % 4, row = Math.floor(pos / 4);
  const xd = xLimits[k], yd = yLimits[k];
  const half = 7.5 * (yd[1] - yd[0]) / AX_H;
  const lineOf = (vals, color) =>
    Plot.line(gridX[k].map((x, i) => ({x, y: vals[k][i]})), {x: "x", y: "y", stroke: color, strokeWidth: 1.1, curve: "monotone-x"});
  const marks = [...axesMarks(xd, yd, xTickVals[k], yTickVals[k])];
  for (const c of classStyle) marks.push(lineOf(c.dens, c.color));
  marks.push(lineOf(densAll, "#000000"));
  for (const c of classStyle) {
    marks.push(Plot.dot(c.samples[k], {
      x: d => d,
      y: (d, i) => bandLevels[k] + JIT[i % JIT.length] * half,
      symbol: c.symbol, stroke: c.color, fill: "none", r: c.r, strokeWidth: 1.1
    }));
  }
  marks.push(Plot.text([`GRL-4 = ${grlValues[k]}`], {frameAnchor: "top-left", dx: 29, dy: 16, textAnchor: "start", lineAnchor: "middle", fontSize: 15, fill: "#111", text: d => d}));
  marks.push(xLabel(gene));
  if (pos === 1) marks.push(title("mRNA data"));
  const svg = Plot.plot({...baseOpts, x: {domain: xd}, y: {domain: yd}, marks});
  place(svg, col, row);
});
</script>
</body>
</html>
